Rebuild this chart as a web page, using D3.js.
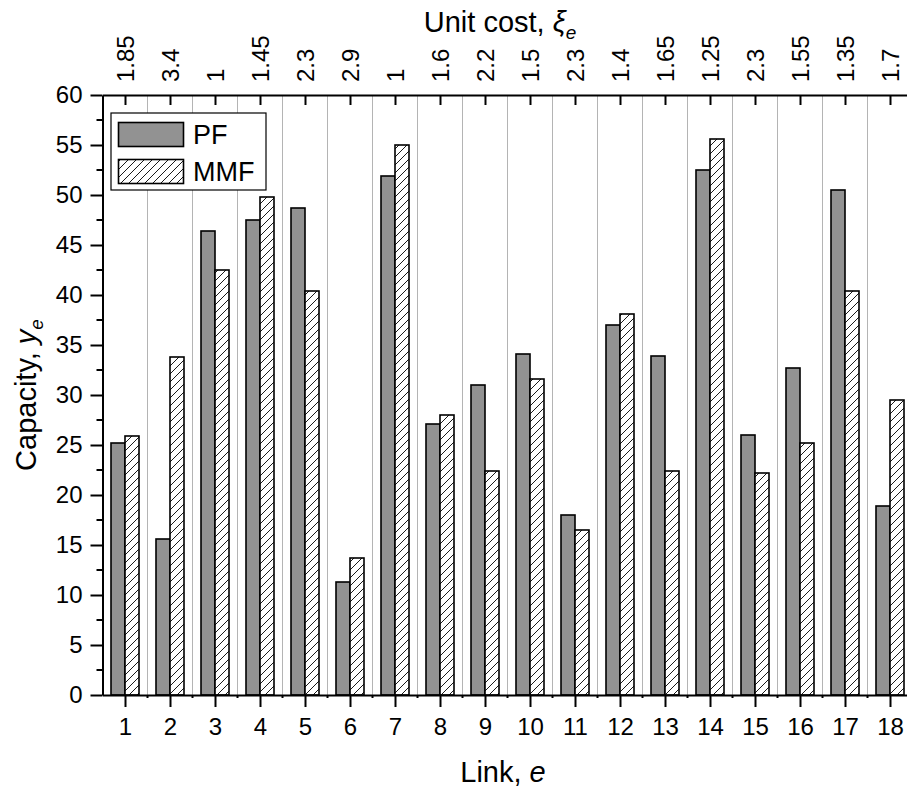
<!DOCTYPE html>
<html><head><meta charset="utf-8">
<script src="https://cdn.jsdelivr.net/npm/d3@7"></script>
<style>body{margin:0;background:#fff}svg{display:block;font-family:"Liberation Sans",Arial,sans-serif}</style>
</head><body><svg id="c" width="907" height="787"></svg>
<script>
const links = [1,2,3,4,5,6,7,8,9,10,11,12,13,14,15,16,17,18];
const unitCost = ["1.85","3.4","1","1.45","2.3","2.9","1","1.6","2.2","1.5","2.3","1.4","1.65","1.25","2.3","1.55","1.35","1.7"];
const pf  = [25.2,15.6,46.4,47.5,48.7,11.3,51.9,27.1,31.0,34.1,18.0,37.0,33.9,52.5,26.0,32.7,50.5,18.9];
const mmf = [25.9,33.8,42.5,49.8,40.4,13.7,55.0,28.0,22.4,31.6,16.5,38.1,22.4,55.6,22.2,25.2,40.4,29.5];
const yTicks = [0,5,10,15,20,25,30,35,40,45,50,55,60];
const seriesNames = ["PF","MMF"];

const svg = d3.select("#c");
const L = 102.5, R = 912.5, T = 95, B = 695;
const x = d3.scaleLinear().domain([0.5,18.5]).range([L,R]);
const y = d3.scaleLinear().domain([0,60]).range([B,T]);
const bw = 14;
const FONT = "Liberation Sans, Arial, sans-serif";

const defs = svg.append("defs");
const pat = defs.append("pattern").attr("id","hatch").attr("patternUnits","userSpaceOnUse")
  .attr("width",8).attr("height",8);
pat.append("rect").attr("width",8).attr("height",8).attr("fill","#fff");
pat.append("path").attr("d","M-2,2 L2,-2 M0,8 L8,0 M6,10 L10,6").attr("stroke","#000").attr("stroke-width",0.9);

// grid lines at midpoints
const mids = d3.range(1.5,18.5,1);
svg.append("g").selectAll("line").data(mids).join("line")
  .attr("x1",d=>x(d)).attr("x2",d=>x(d)).attr("y1",T).attr("y2",B)
  .attr("stroke","#b4b4b4").attr("stroke-width",1);

// bars
const g = svg.append("g");
g.selectAll("rect.pf").data(pf).join("rect").attr("class","pf")
  .attr("x",(d,i)=>x(links[i])-bw).attr("width",bw)
  .attr("y",d=>y(d)).attr("height",d=>y(0)-y(d))
  .attr("fill","#929292").attr("stroke","#000").attr("stroke-width",1.6);
g.selectAll("rect.mmf").data(mmf).join("rect").attr("class","mmf")
  .attr("x",(d,i)=>x(links[i])).attr("width",bw)
  .attr("y",d=>y(d)).attr("height",d=>y(0)-y(d))
  .attr("fill","url(#hatch)").attr("stroke","#000").attr("stroke-width",1.6);

// axes
const fs = 24;
// bottom
const bx = d3.axisBottom(x).tickValues(links).tickSize(12).tickSizeOuter(0).tickFormat(d3.format("d"));
const gb = svg.append("g").attr("transform",`translate(0,${B})`).call(bx);
gb.attr("font-size",fs).attr("font-family",FONT);
gb.select(".domain").attr("stroke-width",2);
gb.selectAll(".tick line").attr("stroke-width",2);
gb.selectAll(".tick text").attr("font-size",fs).attr("y",0).attr("dy",40).attr("fill","#000");
svg.append("g").selectAll("line").data(mids).join("line")
  .attr("x1",d=>x(d)).attr("x2",d=>x(d)).attr("y1",B).attr("y2",B+3).attr("stroke","#000").attr("stroke-width",2);

// top
const tx = d3.axisTop(x).tickValues(links).tickSize(-10).tickSizeOuter(0).tickFormat((d,i)=>unitCost[i]);
const gt = svg.append("g").attr("transform",`translate(0,${T})`).call(tx);
gt.attr("font-size",fs).attr("font-family",FONT);
gt.select(".domain").attr("stroke-width",2);
gt.selectAll(".tick line").attr("stroke-width",2);
gt.selectAll(".tick text").attr("font-size",fs).attr("fill","#000")
  .attr("transform","translate(0,-13) rotate(-90)").attr("x",0).attr("y",0)
  .attr("text-anchor","start").attr("dy","0.35em");

// left
const ly = d3.axisLeft(y).tickValues(yTicks).tickSize(12).tickSizeOuter(0);
const gl = svg.append("g").attr("transform",`translate(${L},0)`).call(ly);
gl.attr("font-size",fs).attr("font-family",FONT);
gl.select(".domain").attr("stroke-width",2);
gl.selectAll(".tick line").attr("stroke-width",2);
gl.selectAll(".tick text").attr("font-size",fs).attr("fill","#000").attr("x",-20);
const minorY = d3.range(2.5,60,5);
svg.append("g").selectAll("line").data(minorY).join("line")
  .attr("x1",L-6).attr("x2",L).attr("y1",d=>y(d)).attr("y2",d=>y(d)).attr("stroke","#000").attr("stroke-width",2);

// titles
const tf = 29;
const t1 = svg.append("text").attr("x",500).attr("y",32).attr("text-anchor","middle").attr("font-size",tf);
t1.append("tspan").text("Unit cost, ");
t1.append("tspan").attr("font-style","italic").text("ξ");
t1.append("tspan").attr("font-style","italic").attr("font-size",19).attr("dy",7).text("e");

const t2 = svg.append("text").attr("x",503).attr("y",782).attr("text-anchor","middle").attr("font-size",tf);
t2.append("tspan").text("Link, ");
t2.append("tspan").attr("font-style","italic").text("e");

const t3 = svg.append("text").attr("transform",`translate(36,${(T+B)/2}) rotate(-90)`).attr("text-anchor","middle").attr("font-size",tf);
t3.append("tspan").text("Capacity, ");
t3.append("tspan").attr("font-style","italic").text("y");
t3.append("tspan").attr("font-style","italic").attr("font-size",19).attr("dy",7).text("e");

// legend
const lg = svg.append("g");
lg.append("rect").attr("x",111).attr("y",113).attr("width",155).attr("height",77)
  .attr("fill","#fff").attr("stroke","#000").attr("stroke-width",1.2);
const fills = ["#929292","url(#hatch)"];
seriesNames.forEach((n,i)=>{
  lg.append("rect").attr("x",118.5).attr("y",122.5+i*37).attr("width",65).attr("height",24)
    .attr("fill",fills[i]).attr("stroke","#000").attr("stroke-width",1.6);
  lg.append("text").attr("x",193).attr("y",144+i*37).attr("font-size",27).text(n);
});
</script></body></html>
